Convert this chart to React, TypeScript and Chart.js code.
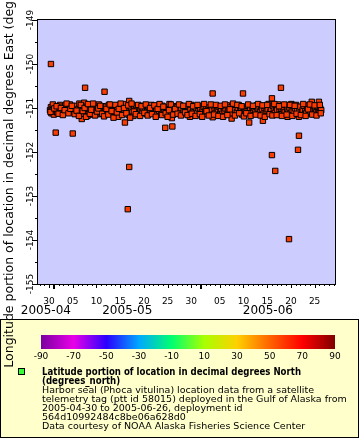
import React, { useEffect, useRef } from 'react';
import { Chart, registerables } from 'chart.js';

Chart.register(...registerables);

// Day offsets are days since 2005-05-01 00:00 UTC (day -1 = 2005-04-30)
const X_MIN = -3.33;
const X_MAX = 59.3;
const Y_MIN = -155;
const Y_MAX = -149;

const yTickValues = [-155, -154, -153, -152, -151, -150, -149];
const yTickLabels = ['-155', '-154', '-153', '-152', '-151', '-150', '-149'];

const labeledDays = [-1, 4, 9, 14, 19, 24, 29, 35, 40, 45, 50, 55];
const xTickLabels = ['30', '05', '10', '15', '20', '25', '30', '05', '10', '15', '20', '25'];
const monthStartDays = [0, 31];

const monthNames = ['2005-04', '2005-05', '2005-06'];
const monthFrom = [-30, 0, 31];
const monthTo = [0, 31, 61];

const colorbarTicks = [-90, -70, -50, -30, -10, 10, 30, 50, 70, 90];
const colorbarColors = ['#7a00a0', '#e800e8', '#2a00ff', '#00a8ff', '#00ff70', '#a8ff00', '#ffd000', '#ff6400', '#ff0000', '#800000'];

const legendTitleLines = ['Latitude portion of location in decimal degrees North', '(degrees_north)'];
const legendBodyLines = [
  'Harbor seal (Phoca vitulina) location data from a satellite',
  'telemetry tag (ptt id 58015) deployed in the Gulf of Alaska from',
  '2005-04-30 to 2005-06-26, deployment id',
  '564d10992484c8be06a628d0',
  'Data courtesy of NOAA Alaska Fisheries Science Center',
];
const yTitle = 'Longitude portion of location in decimal degrees East (degrees_east)';

// [day offset, longitude]
const locations: [number, number][] = [
  [-0.8, -151.05], [-0.6, -150.0], [-0.6, -150.98], [-0.5, -151.12], [-0.3, -151.02], [-0.1, -150.95],
  [0.0, -151.15], [0.2, -151.08], [0.3, -150.97], [0.4, -151.56], [0.5, -151.04], [0.7, -151.1], [0.9, -150.99],
  [1.1, -151.06], [1.3, -150.93], [1.4, -151.12], [1.6, -151.03], [1.8, -150.97], [2.0, -151.08],
  [2.2, -151.01], [2.4, -150.94], [2.6, -151.06], [2.8, -151.11], [3.0, -150.98], [3.2, -151.04],
  [3.4, -150.92], [3.6, -151.07], [3.9, -151.0], [4.0, -151.58], [4.1, -150.96], [4.3, -151.09], [4.5, -151.03],
  [4.7, -150.95], [5.0, -151.1], [5.2, -151.02], [5.4, -150.9], [5.6, -151.05], [5.8, -150.98], [5.9, -151.25],
  [6.0, -151.13], [6.2, -151.03], [6.4, -150.88], [6.6, -150.54], [6.7, -151.06], [6.9, -150.97], [7.1, -151.18],
  [7.3, -151.02], [7.5, -150.94], [7.7, -151.08], [8.0, -151.0], [8.2, -151.15], [8.4, -150.95],
  [8.6, -151.05], [8.8, -151.1], [9.0, -150.98], [9.2, -151.03], [9.5, -150.92], [9.7, -151.07],
  [9.9, -151.14], [10.1, -151.01], [10.3, -150.96], [10.5, -151.08], [10.7, -150.63], [10.8, -151.03], [11.0, -150.97],
  [11.2, -151.11], [11.4, -151.04], [11.6, -150.93], [11.9, -151.06], [12.1, -151.0], [12.3, -151.13],
  [12.5, -150.96], [12.7, -151.05], [12.9, -151.09], [13.2, -150.99], [13.4, -151.04], [13.6, -151.2],
  [13.8, -150.95], [14.0, -151.07], [14.2, -151.02], [14.5, -151.12], [14.7, -150.97], [14.9, -151.05],
  [15.0, -151.33], [15.2, -150.91], [15.4, -151.08], [15.6, -153.3], [15.6, -151.01], [15.8, -151.16],
  [15.9, -150.84], [15.9, -152.34], [16.0, -150.96], [16.3, -151.04], [16.5, -151.1], [16.8, -151.18],
  [17.0, -150.99], [17.2, -151.06], [17.4, -150.94], [17.7, -151.03], [17.9, -151.12], [18.1, -150.98],
  [18.3, -151.05], [18.6, -151.09], [18.8, -151.01], [19.0, -150.95], [19.3, -151.07], [19.5, -151.13],
  [19.7, -151.02], [19.9, -150.97], [20.2, -151.05], [20.4, -151.1], [20.6, -150.93], [20.9, -151.03],
  [21.1, -151.08], [21.3, -150.98], [21.6, -151.04], [21.8, -151.15], [22.0, -150.96], [22.2, -151.06],
  [22.5, -151.01], [22.7, -151.11], [22.9, -150.95], [23.2, -151.04], [23.4, -151.09], [23.5, -151.45],
  [23.7, -150.99], [23.9, -151.06], [24.1, -151.02], [24.4, -150.91], [24.6, -151.08], [24.8, -151.13],
  [24.9, -151.23], [25.0, -151.42], [25.1, -151.0], [25.3, -150.96], [25.5, -151.05], [25.8, -151.1],
  [26.0, -150.98], [26.2, -151.03], [26.5, -151.07], [26.7, -150.94], [26.9, -151.01], [27.2, -151.12],
  [27.4, -151.05], [27.6, -150.97], [27.9, -151.03], [28.1, -151.08], [28.3, -150.99], [28.6, -151.06],
  [28.7, -151.2], [28.8, -151.02], [29.0, -150.93], [29.3, -151.09], [29.5, -151.04], [29.8, -150.98],
  [30.0, -151.07], [30.2, -151.12], [30.5, -151.01], [30.7, -150.96], [30.9, -151.05], [31.2, -151.1],
  [31.4, -151.03], [31.6, -150.97], [31.9, -151.08], [32.1, -151.02], [32.3, -151.14], [32.6, -150.99],
  [32.8, -151.05], [33.0, -151.09], [33.3, -151.03], [33.5, -150.67], [33.5, -151.21], [33.7, -150.95],
  [33.9, -151.06], [34.1, -151.11], [34.4, -151.0], [34.6, -151.04], [34.8, -150.97], [35.1, -151.08],
  [35.3, -151.02], [35.4, -151.14], [35.5, -151.13], [35.8, -150.98], [36.0, -151.06], [36.2, -151.01],
  [36.5, -150.94], [36.7, -151.09], [36.9, -151.04], [37.2, -150.99], [37.4, -151.07], [37.5, -151.24],
  [37.6, -151.12], [37.9, -151.02], [38.1, -150.96], [38.3, -151.05], [38.6, -151.1], [38.8, -151.0],
  [39.0, -150.93], [39.3, -151.06], [39.5, -151.03], [39.7, -151.15], [39.9, -150.67], [40.0, -150.98],
  [40.2, -151.05], [40.4, -151.09], [40.7, -151.01], [40.9, -150.95], [41.1, -151.07], [41.2, -151.33],
  [41.4, -151.03], [41.6, -151.12], [41.8, -150.97], [42.1, -151.05], [42.3, -151.0], [42.5, -151.1],
  [42.8, -150.94], [43.0, -151.06], [43.2, -151.02], [43.5, -151.08], [43.7, -150.98], [43.9, -151.04],
  [44.1, -151.29], [44.2, -151.13], [44.4, -151.0], [44.6, -150.96], [44.9, -151.07], [45.1, -151.03],
  [45.3, -150.91], [45.6, -151.09], [45.8, -151.02], [46.0, -150.78], [46.0, -152.07], [46.2, -150.95],
  [46.4, -151.06], [46.6, -151.11], [46.7, -152.43], [46.9, -150.99], [47.1, -151.04], [47.3, -150.92],
  [47.6, -151.08], [47.8, -151.14], [47.9, -150.54], [48.0, -151.01], [48.3, -150.97], [48.5, -151.05],
  [48.7, -151.1], [49.0, -150.94], [49.2, -151.03], [49.3, -151.2], [49.5, -151.07], [49.6, -153.98],
  [49.7, -150.99], [49.9, -151.12], [50.1, -150.91], [50.2, -151.04], [50.4, -150.96], [50.6, -151.08],
  [50.9, -151.01], [51.1, -150.93], [51.3, -151.06], [51.5, -151.95], [51.6, -151.16], [51.7, -151.63],
  [51.7, -151.2], [51.8, -151.02], [52.0, -150.97], [52.3, -151.09], [52.5, -151.04], [52.7, -150.95],
  [53.0, -151.07], [53.2, -151.12], [53.4, -151.0], [53.7, -150.94], [53.9, -151.05], [54.1, -151.09],
  [54.4, -150.86], [54.4, -151.02], [54.6, -150.96], [54.8, -151.06], [55.1, -151.03], [55.3, -151.1],
  [55.5, -150.98], [55.8, -151.04], [55.9, -150.86], [56.0, -151.08], [56.2, -151.01], [56.4, -151.05],
  // additional fixes within the main cluster
  [-0.7, -151.09], [-0.2, -150.92], [0.1, -151.01], [0.6, -150.96], [1.0, -151.13], [1.5, -151.0],
  [1.9, -151.16], [2.3, -151.05], [2.7, -150.9], [3.1, -151.12], [3.5, -151.02], [3.8, -150.95],
  [4.4, -151.14], [4.8, -151.06], [5.3, -151.18], [5.7, -150.93], [6.1, -151.07], [6.5, -151.0],
  [6.8, -151.2], [7.2, -150.91], [7.6, -151.13], [7.9, -151.04], [8.3, -150.9], [8.7, -151.17],
  [9.1, -151.08], [9.4, -151.01], [9.8, -150.95], [10.2, -151.13], [10.6, -151.19], [11.1, -151.02],
  [11.5, -151.15], [11.8, -150.92], [12.2, -151.07], [12.6, -151.22], [13.0, -150.93], [13.3, -151.1],
  [13.7, -151.02], [14.1, -150.9], [14.4, -151.16], [14.8, -151.0], [15.3, -151.12], [15.7, -150.94],
  [16.1, -151.22], [16.4, -150.9], [16.9, -151.08], [17.3, -151.14], [17.8, -150.93], [18.2, -151.18],
  [18.5, -150.96], [19.1, -151.11], [19.4, -150.92], [19.8, -151.17], [20.3, -151.0], [20.7, -151.14],
  [21.2, -150.94], [21.5, -151.2], [21.9, -151.02], [22.3, -150.91], [22.8, -151.16], [23.1, -150.97],
  [23.6, -151.12], [24.0, -151.2], [24.3, -151.05], [24.7, -150.92], [25.2, -151.15], [25.6, -151.02],
  [26.1, -151.13], [26.4, -150.92], [26.8, -151.17], [27.3, -150.95], [27.7, -151.1], [28.2, -151.16],
  [28.5, -150.91], [29.1, -151.13], [29.4, -150.96], [29.9, -151.18], [30.3, -150.93], [30.8, -151.14],
  [31.3, -151.2], [31.7, -150.91], [32.2, -151.07], [32.7, -151.17], [33.1, -150.92], [33.8, -151.15],
  [34.2, -150.93], [34.7, -151.18], [35.2, -150.95], [35.7, -151.2], [36.1, -150.92], [36.6, -151.16],
  [37.1, -151.03], [37.8, -150.9], [38.2, -151.17], [38.7, -150.93], [39.1, -151.12], [39.6, -150.96],
  [40.1, -151.19], [40.6, -151.12], [41.0, -150.92], [41.5, -151.18], [42.0, -150.95], [42.6, -151.15],
  [43.1, -150.91], [43.6, -151.17], [44.0, -150.94], [44.5, -151.2], [45.0, -150.93], [45.5, -151.14],
  [46.1, -151.17], [46.5, -150.91], [47.0, -151.16], [47.5, -150.96], [48.1, -151.18], [48.6, -150.92],
  [49.1, -151.15], [49.8, -150.93], [50.3, -151.18], [50.8, -150.95], [51.2, -151.13], [52.1, -151.16],
  [52.6, -150.91], [53.1, -151.18], [53.6, -151.03], [54.0, -150.92], [54.5, -151.15], [55.0, -150.94],
  [55.4, -151.17], [56.1, -150.93], [56.3, -151.12],
];

const FONT = '"DejaVu Sans"';

function dayOfMonth(offset: number): number {
  return new Date(Date.UTC(2005, 4, 1 + offset)).getUTCDate();
}

const erddapPlugin = {
  id: 'erddapDecor',
  beforeDraw(chart: any) {
    const { ctx, chartArea: a } = chart;
    ctx.save();
    ctx.fillStyle = '#ffffff';
    ctx.fillRect(0, 0, chart.width, chart.height);
    ctx.fillStyle = '#ccccff';
    ctx.fillRect(a.left, a.top, a.right - a.left, a.bottom - a.top);
    ctx.restore();
  },
  afterDraw(chart: any) {
    const { ctx, chartArea: a } = chart;
    const xs = chart.scales.x;
    const ys = chart.scales.y;
    ctx.save();
    // frame
    ctx.strokeStyle = '#000';
    ctx.lineWidth = 1;
    ctx.strokeRect(a.left - 0.5, a.top - 0.5, a.right - a.left + 1, a.bottom - a.top + 1);

    // x tick marks
    for (let d = Math.ceil(X_MIN); d <= Math.floor(X_MAX); d++) {
      const px = Math.round(xs.getPixelForValue(d));
      let len = 2;
      let w = 1;
      if (monthStartDays.includes(d)) { len = 5; w = 2; }
      else if (labeledDays.includes(d)) { len = 4; }
      ctx.fillStyle = '#000';
      ctx.fillRect(px - (w === 2 ? 1 : 0), a.bottom, w, len);
    }
    // y tick marks
    for (let v = Y_MIN; v <= Y_MAX; v += 0.5) {
      const py = Math.round(ys.getPixelForValue(v));
      const major = Number.isInteger(v);
      const len = major ? 5 : 2;
      ctx.fillStyle = '#000';
      ctx.fillRect(a.left - 1 - len, py, len, 1);
    }
    // y tick labels (rotated)
    ctx.font = `9px ${FONT}`;
    ctx.fillStyle = '#000';
    ctx.textAlign = 'center';
    ctx.textBaseline = 'middle';
    yTickValues.forEach((v, i) => {
      const py = ys.getPixelForValue(v);
      ctx.save();
      ctx.translate(a.left - 7, py);
      ctx.rotate(-Math.PI / 2);
      ctx.fillText(yTickLabels[i], 0, 0);
      ctx.restore();
    });

    // month labels
    ctx.font = `12px ${FONT}`;
    monthNames.forEach((m, i) => {
      const from = Math.max(monthFrom[i], X_MIN);
      const to = Math.min(monthTo[i], X_MAX);
      const px = xs.getPixelForValue((from + to) / 2);
      ctx.fillText(m, px, 311);
    });

    // legend box
    ctx.fillStyle = '#ffffcc';
    ctx.fillRect(0, 319, 359, 119);
    ctx.strokeStyle = '#000';
    ctx.strokeRect(0.5, 319.5, 358, 118);

    // colorbar
    const cbL = 41, cbR = 335, cbT = 335, cbH = 14;
    const grad = ctx.createLinearGradient(cbL, 0, cbR, 0);
    colorbarColors.forEach((c, i) => grad.addColorStop(i / (colorbarColors.length - 1), c));
    ctx.fillStyle = grad;
    ctx.fillRect(cbL, cbT, cbR - cbL, cbH);
    ctx.fillStyle = '#000';
    ctx.font = `9px ${FONT}`;
    ctx.textAlign = 'center';
    colorbarTicks.forEach((t) => {
      const px = cbL + ((t - colorbarTicks[0]) / (colorbarTicks[colorbarTicks.length - 1] - colorbarTicks[0])) * (cbR - cbL);
      ctx.fillText(String(t), px, 356.5);
    });

    // legend marker
    ctx.fillStyle = '#33ff33';
    ctx.fillRect(19, 369, 6, 6);
    ctx.strokeStyle = '#000';
    ctx.strokeRect(18.5, 368.5, 6, 6);

    // legend text
    ctx.textAlign = 'left';
    ctx.fillStyle = '#000';
    ctx.font = `bold 9.6px "DejaVu Sans Condensed", ${FONT}`;
    let ly = 372.5;
    legendTitleLines.forEach((t) => { ctx.fillText(t, 42, ly, 259); ly += 9; });
    ctx.font = `9.5px ${FONT}`;
    legendBodyLines.forEach((t) => { ctx.fillText(t, 42, ly, 306); ly += 9; });

    // y axis title
    ctx.font = `12.5px ${FONT}`;
    ctx.textAlign = 'center';
    ctx.save();
    ctx.translate(10, (a.top + a.bottom) / 2);
    ctx.rotate(-Math.PI / 2);
    ctx.fillText(yTitle, 0, 0);
    ctx.restore();

    ctx.restore();
  },
};

export default function App() {
  const canvasRef = useRef<HTMLCanvasElement | null>(null);

  useEffect(() => {
    if (!canvasRef.current) return;
    const chart = new Chart(canvasRef.current, {
      type: 'scatter',
      data: {
        datasets: [
          {
            data: locations.map(([d, lon]) => ({ x: d, y: lon })),
            pointStyle: 'rect',
            pointRadius: 3.8,
            pointHoverRadius: 3.8,
            backgroundColor: '#ff3c00',
            borderColor: '#000000',
            borderWidth: 1,
          },
        ],
      },
      options: {
        responsive: false,
        animation: false,
        devicePixelRatio: 1,
        layout: { padding: { top: 20, right: 25, left: 0, bottom: 0 } },
        plugins: { legend: { display: false }, tooltip: { enabled: false } },
        scales: {
          x: {
            type: 'linear',
            min: X_MIN,
            max: X_MAX,
            grid: { display: false },
            border: { display: false },
            afterBuildTicks: (s: any) => {
              s.ticks = labeledDays.map((v) => ({ value: v }));
            },
            afterFit: (s: any) => { s.height = 156; },
            ticks: {
              autoSkip: false,
              maxRotation: 0,
              minRotation: 0,
              padding: 4,
              color: '#000',
              font: { family: 'DejaVu Sans', size: 9 },
              callback: (v: any) => {
                const i = labeledDays.indexOf(Number(v));
                return i >= 0 ? xTickLabels[i] : String(dayOfMonth(Number(v))).padStart(2, '0');
              },
            },
          },
          y: {
            type: 'linear',
            min: Y_MIN,
            max: Y_MAX,
            grid: { display: false },
            border: { display: false },
            ticks: { display: false },
            afterFit: (s: any) => { s.width = 38; },
          },
        },
      },
      plugins: [erddapPlugin],
    });
    return () => chart.destroy();
  }, []);

  return (
    <div style={{ position: 'absolute', left: 0, top: 0, width: 360, height: 440, background: '#fff' }}>
      <canvas ref={canvasRef} width={360} height={440} style={{ display: 'block' }} />
    </div>
  );
}
